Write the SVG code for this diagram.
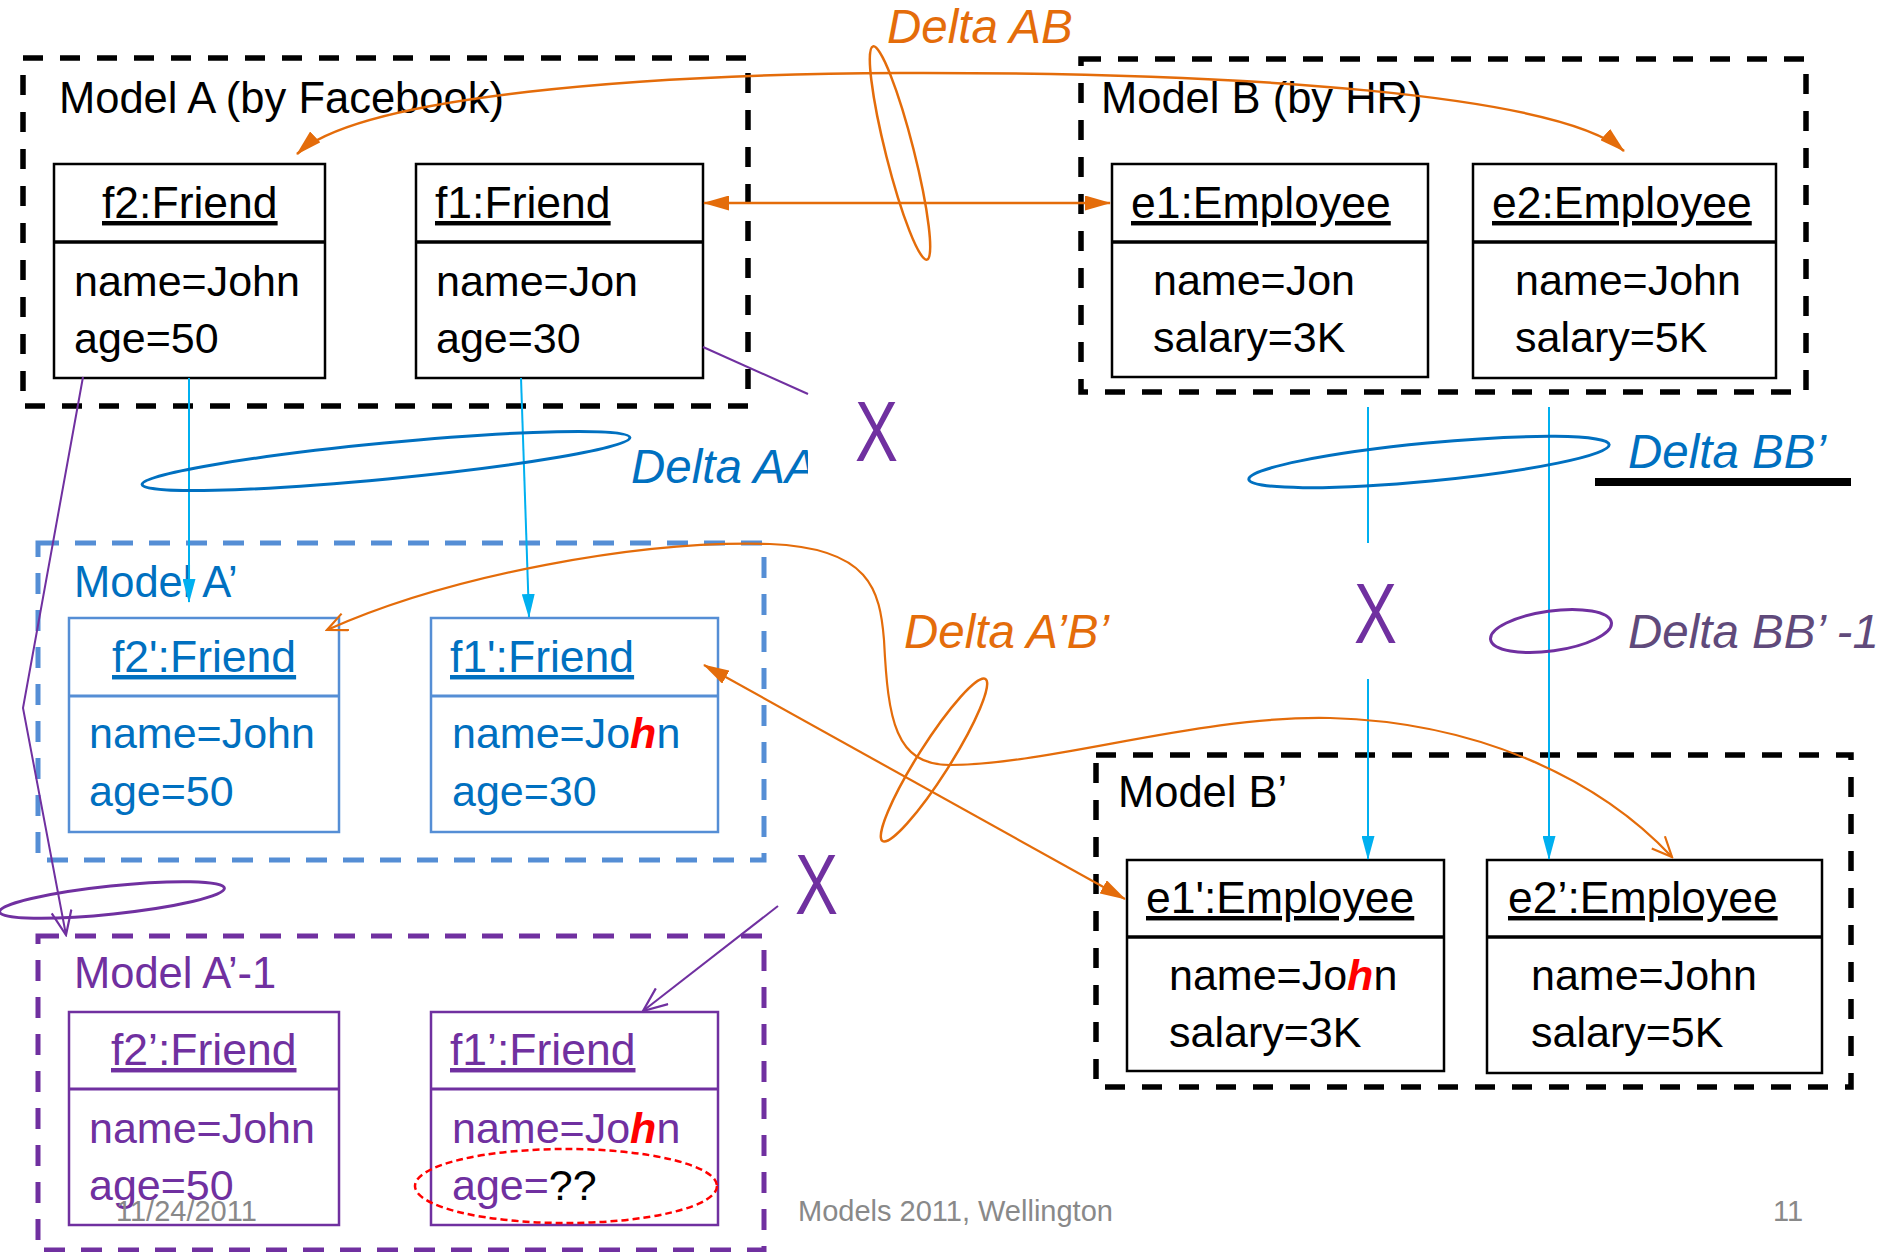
<svg xmlns="http://www.w3.org/2000/svg" width="1886" height="1252" viewBox="0 0 1886 1252">
  <style>
    text { font-family: "Liberation Sans", Arial, sans-serif; }
    .t { font-size: 43px; }
    .n { font-size: 44.5px; }
    .title { font-size: 43.5px; }
    .k { fill: #000000; }
    .b { fill: #0070C0; }
    .p { fill: #7030A0; }
    .u { text-decoration: underline; }
    .hl { fill: #FF0000; font-weight: bold; font-style: italic; }
    .delta { font-size: 47.5px; font-style: italic; }
    .x { font-size: 86px; fill: #7030A0; }
    .foot { font-size: 29px; fill: #898989; }
    .cont-k { fill: none; stroke: #000000; stroke-width: 5.5; stroke-dasharray: 20 17; }
    .cont-b { fill: none; stroke: #558ED5; stroke-width: 5; stroke-dasharray: 21 16; }
    .cont-p { fill: none; stroke: #7030A0; stroke-width: 5; stroke-dasharray: 21 16; }
    .box-k { fill: #FFFFFF; stroke: #000000; stroke-width: 2.5; }
    .div-k { stroke: #000000; stroke-width: 3.5; }
    .box-b { fill: #FFFFFF; stroke: #558ED5; stroke-width: 2.5; }
    .div-b { stroke: #558ED5; stroke-width: 3; }
    .box-p { fill: #FFFFFF; stroke: #7030A0; stroke-width: 2.5; }
    .div-p { stroke: #7030A0; stroke-width: 3; }
    .or { fill: none; stroke: #E46C0A; }
    .cy { fill: none; stroke: #00B0F0; stroke-width: 2; }
    .pu { fill: none; stroke: #7030A0; stroke-width: 2; }
  </style>
  <defs>
    <marker id="orFill" viewBox="0 0 26 15" refX="25" refY="7.5" markerWidth="26" markerHeight="15" markerUnits="userSpaceOnUse" orient="auto-start-reverse">
      <path d="M0,0 L26,7.5 L0,15 z" fill="#E46C0A"/>
    </marker>
    <marker id="orOpen" viewBox="0 0 24 20" refX="22" refY="10" markerWidth="24" markerHeight="20" markerUnits="userSpaceOnUse" orient="auto-start-reverse">
      <path d="M2,1 L22,10 L2,19" fill="none" stroke="#E46C0A" stroke-width="2.2"/>
    </marker>
    <marker id="puOpen" viewBox="0 0 28 22" refX="26" refY="11" markerWidth="28" markerHeight="22" markerUnits="userSpaceOnUse" orient="auto">
      <path d="M2,1 L26,11 L2,21" fill="none" stroke="#7030A0" stroke-width="2.2"/>
    </marker>
    <marker id="cyFill" viewBox="0 0 24 13" refX="23" refY="6.5" markerWidth="24" markerHeight="13" markerUnits="userSpaceOnUse" orient="auto">
      <path d="M0,0 L24,6.5 L0,13 z" fill="#00B0F0"/>
    </marker>
    <clipPath id="clipAA">
      <rect x="0" y="0" width="808" height="1252"/>
    </clipPath>
  </defs>

  <rect x="0" y="0" width="1886" height="1252" fill="#FFFFFF"/>

  <!-- Model A (by Facebook) -->
  <g id="model-a">
    <rect class="cont-k" x="23" y="58" width="725" height="348"/>
    <text class="title k" x="59" y="113">Model A (by Facebook)</text>
  </g>
  <g id="f2">
    <rect class="box-k" x="54" y="164" width="271" height="214"/>
    <line class="div-k" x1="54" y1="242" x2="325" y2="242"/>
    <text class="n k u" x="102" y="218">f2:Friend</text>
    <text class="t k" x="74" y="296">name=John</text>
    <text class="t k" x="74" y="353">age=50</text>
  </g>
  <g id="f1">
    <rect class="box-k" x="416" y="164" width="287" height="214"/>
    <line class="div-k" x1="416" y1="242" x2="703" y2="242"/>
    <text class="n k u" x="435" y="218">f1:Friend</text>
    <text class="t k" x="436" y="296">name=Jon</text>
    <text class="t k" x="436" y="353">age=30</text>
  </g>

  <!-- Model B (by HR) -->
  <g id="model-b">
    <rect class="cont-k" x="1081" y="59" width="725" height="333"/>
    <text class="title k" x="1101" y="113">Model B (by HR)</text>
  </g>
  <g id="e1">
    <rect class="box-k" x="1112" y="164" width="316" height="213"/>
    <line class="div-k" x1="1112" y1="242" x2="1428" y2="242"/>
    <text class="n k u" x="1131" y="218">e1:Employee</text>
    <text class="t k" x="1153" y="295">name=Jon</text>
    <text class="t k" x="1153" y="352">salary=3K</text>
  </g>
  <g id="e2">
    <rect class="box-k" x="1473" y="164" width="303" height="214"/>
    <line class="div-k" x1="1473" y1="242" x2="1776" y2="242"/>
    <text class="n k u" x="1492" y="218">e2:Employee</text>
    <text class="t k" x="1515" y="295">name=John</text>
    <text class="t k" x="1515" y="352">salary=5K</text>
  </g>

  <!-- Model A' -->
  <g id="model-a2">
    <rect class="cont-b" x="38" y="543" width="726" height="317"/>
    <text class="title b" x="74" y="597">Model A’</text>
  </g>
  <g id="f2p">
    <rect class="box-b" x="69" y="618" width="270" height="214"/>
    <line class="div-b" x1="69" y1="696" x2="339" y2="696"/>
    <text class="n b u" x="112" y="672">f2':Friend</text>
    <text class="t b" x="89" y="748">name=John</text>
    <text class="t b" x="89" y="806">age=50</text>
  </g>
  <g id="f1p">
    <rect class="box-b" x="431" y="618" width="287" height="214"/>
    <line class="div-b" x1="431" y1="696" x2="718" y2="696"/>
    <text class="n b u" x="450" y="672">f1':Friend</text>
    <text class="t b" x="452" y="748">name=Jo<tspan class="hl">h</tspan>n</text>
    <text class="t b" x="452" y="806">age=30</text>
  </g>

  <!-- Model A'-1 -->
  <g id="model-a2-inv">
    <rect class="cont-p" x="38" y="936" width="726" height="314"/>
    <text class="title p" x="74" y="988">Model A’-1</text>
  </g>
  <g id="f2p-inv">
    <rect class="box-p" x="69" y="1012" width="270" height="213"/>
    <line class="div-p" x1="69" y1="1089" x2="339" y2="1089"/>
    <text class="n p u" x="111" y="1065">f2’:Friend</text>
    <text class="t p" x="89" y="1143">name=John</text>
    <text class="t p" x="89" y="1200">age=50</text>
  </g>
  <g id="f1p-inv">
    <rect class="box-p" x="431" y="1012" width="287" height="213"/>
    <line class="div-p" x1="431" y1="1089" x2="718" y2="1089"/>
    <text class="n p u" x="450" y="1065">f1’:Friend</text>
    <text class="t p" x="452" y="1143">name=Jo<tspan class="hl">h</tspan>n</text>
    <text class="t p" x="452" y="1200">age=<tspan class="k">??</tspan></text>
    <ellipse cx="566" cy="1186" rx="151" ry="37" fill="none" stroke="#FF0000" stroke-width="2.5" stroke-dasharray="7 4"/>
  </g>

  <!-- Model B' -->
  <g id="model-b2">
    <rect class="cont-k" x="1096" y="755" width="755" height="332"/>
    <text class="title k" x="1118" y="807">Model B’</text>
  </g>
  <g id="e1p">
    <rect class="box-k" x="1127" y="860" width="317" height="211"/>
    <line class="div-k" x1="1127" y1="937" x2="1444" y2="937"/>
    <text class="n k u" x="1146" y="913">e1':Employee</text>
    <text class="t k" x="1169" y="990">name=Jo<tspan class="hl">h</tspan>n</text>
    <text class="t k" x="1169" y="1047">salary=3K</text>
  </g>
  <g id="e2p">
    <rect class="box-k" x="1487" y="860" width="335" height="213"/>
    <line class="div-k" x1="1487" y1="937" x2="1822" y2="937"/>
    <text class="n k u" x="1508" y="913">e2’:Employee</text>
    <text class="t k" x="1531" y="990">name=John</text>
    <text class="t k" x="1531" y="1047">salary=5K</text>
  </g>

  <!-- Connectors -->
  <g id="connectors">
    <!-- Delta AB -->
    <path class="or" stroke-width="2.5" d="M297,154 C360,95 650,74 900,73 C1250,72 1560,95 1624,151" marker-start="url(#orFill)" marker-end="url(#orFill)"/>
    <line class="or" stroke-width="2.5" x1="704" y1="203" x2="1110" y2="203" marker-start="url(#orFill)" marker-end="url(#orFill)"/>
    <ellipse class="or" stroke-width="2.5" cx="900" cy="153" rx="110" ry="14" transform="rotate(75.8 900 153)"/>

    <!-- Delta AA' -->
    <line class="cy" x1="189" y1="378" x2="189" y2="602" marker-end="url(#cyFill)"/>
    <line class="cy" x1="521" y1="378" x2="529" y2="617" marker-end="url(#cyFill)"/>
    <ellipse fill="none" stroke="#0070C0" stroke-width="3" cx="386" cy="461" rx="245" ry="18" transform="rotate(-5.5 386 461)"/>

    <!-- Delta BB' -->
    <line class="cy" x1="1368" y1="407" x2="1368" y2="543"/>
    <line class="cy" x1="1368" y1="679" x2="1368" y2="859" marker-end="url(#cyFill)"/>
    <line class="cy" x1="1549" y1="407" x2="1549" y2="859" marker-end="url(#cyFill)"/>
    <ellipse fill="none" stroke="#0070C0" stroke-width="3" cx="1429" cy="462" rx="181" ry="19" transform="rotate(-5.5 1429 462)"/>
    <ellipse fill="none" stroke="#7030A0" stroke-width="3" cx="1551" cy="631" rx="61" ry="20" transform="rotate(-8 1551 631)"/>

    <!-- Delta A'B' -->
    <path class="or" stroke-width="2.2" d="M327,630 C450,575 640,540 770,544 C870,548 880,590 884,640 C888,720 895,765 950,765 C1050,765 1200,715 1330,718 C1480,722 1600,780 1672,857" marker-start="url(#orOpen)" marker-end="url(#orOpen)"/>
    <line class="or" stroke-width="2.2" x1="704" y1="665" x2="1125" y2="899" marker-start="url(#orFill)" marker-end="url(#orFill)"/>
    <ellipse class="or" stroke-width="2.5" cx="934" cy="760" rx="96" ry="16" transform="rotate(-57.6 934 760)"/>

    <!-- Inverse deltas -->
    <line class="pu" x1="703" y1="347" x2="808" y2="394"/>
    <polyline class="pu" points="83,377 23,708 66,935" marker-end="url(#puOpen)"/>
    <line class="pu" x1="778" y1="906" x2="643" y2="1011" marker-end="url(#puOpen)"/>
    <ellipse fill="none" stroke="#7030A0" stroke-width="3" cx="112" cy="900" rx="113" ry="14" transform="rotate(-6 112 900)"/>

    <line x1="1595" y1="482" x2="1851" y2="482" stroke="#000000" stroke-width="8"/>
  </g>

  <!-- Labels -->
  <g id="labels">
    <text class="delta" fill="#E46C0A" x="887" y="43">Delta AB</text>
    <text class="delta" fill="#0070C0" x="631" y="483" clip-path="url(#clipAA)">Delta AA’</text>
    <text class="delta" fill="#0070C0" x="1628" y="468">Delta BB’</text>
    <text class="delta" fill="#E46C0A" x="904" y="648">Delta A’B’</text>
    <text class="delta" fill="#604A7B" x="1628" y="648">Delta BB’ -1</text>
    <text class="x" x="855" y="461" textLength="43" lengthAdjust="spacingAndGlyphs">X</text>
    <text class="x" x="1354" y="643" textLength="43" lengthAdjust="spacingAndGlyphs">X</text>
    <text class="x" x="795" y="914" textLength="43" lengthAdjust="spacingAndGlyphs">X</text>
  </g>

  <!-- Footer -->
  <g id="footer">
    <text class="foot" x="116" y="1221">11/24/2011</text>
    <text class="foot" x="798" y="1221">Models 2011, Wellington</text>
    <text class="foot" x="1773" y="1221">11</text>
  </g>
</svg>
